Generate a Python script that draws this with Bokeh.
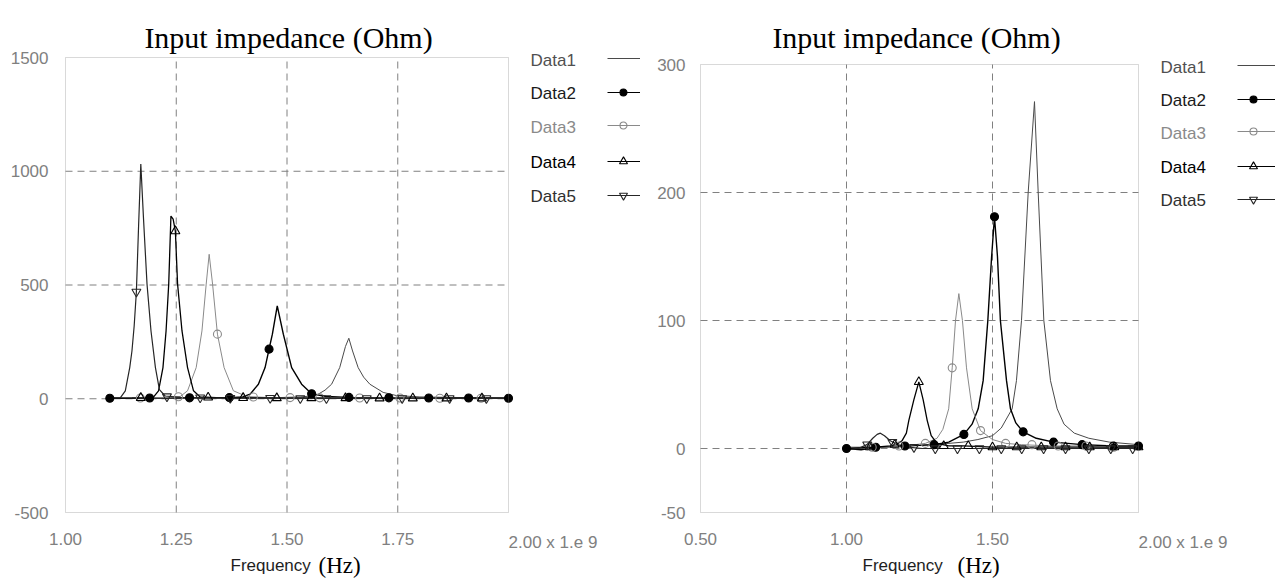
from bokeh.plotting import figure
from bokeh.layouts import row
from bokeh.models import Range1d, FixedTicker, Label, ColumnDataSource, LinearAxis, BoxAnnotation
from bokeh.core.properties import value
from bokeh.embed import file_html
from bokeh.resources import INLINE

# ---------------- data: left panel (frequency in 1e9 Hz, impedance in Ohm) ----------------
d1L_f = [1.10, 1.20, 1.30, 1.40, 1.48, 1.53, 1.555, 1.5705, 1.586, 1.6007, 1.619, 1.632, 1.6396,
         1.648, 1.6606, 1.673, 1.687, 1.717, 1.747, 1.80, 1.90, 2.00]
d1L_v = [2, 2, 3, 4, 5, 8, 12, 20, 38, 64, 137, 230, 266, 210, 137, 95, 64, 28, 14, 8, 5, 4]

d2L_f = [1.10, 1.19, 1.28, 1.37, 1.40, 1.4167, 1.4354, 1.4505, 1.4595, 1.467, 1.478, 1.4917,
         1.5105, 1.533, 1.5556, 1.589, 1.64, 1.73, 1.82, 1.91, 2.00]
d2L_v = [2, 3, 4, 5, 8, 20, 64, 137, 218, 284, 408, 284, 137, 64, 22, 10, 6, 4, 3, 3, 2]
d2L_mf = [1.10, 1.19, 1.28, 1.37, 1.4595, 1.5556, 1.64, 1.73, 1.82, 1.91, 2.00]
d2L_mv = [2, 3, 4, 5, 218, 22, 6, 4, 3, 3, 2]

d3L_f = [1.10, 1.16, 1.22, 1.259, 1.2755, 1.295, 1.308, 1.3176, 1.3243, 1.332, 1.343, 1.358,
         1.379, 1.409, 1.45, 1.50, 1.60, 1.70, 1.80, 1.90, 2.00]
d3L_v = [2, 3, 5, 10, 35, 137, 298, 504, 635, 504, 284, 137, 35, 10, 6, 5, 4, 3, 3, 2, 2]
d3L_mf = [1.169, 1.255, 1.343, 1.424, 1.507, 1.574, 1.664, 1.755, 1.845, 1.938]
d3L_mv = [3, 9, 284, 8, 5, 4, 3, 3, 2, 2]

d4L_f = [1.10, 1.15, 1.18, 1.199, 1.210, 1.220, 1.227, 1.233, 1.238, 1.243, 1.248, 1.253, 1.263,
         1.2755, 1.289, 1.304, 1.34, 1.40, 1.50, 1.60, 1.70, 1.80, 1.90, 2.00]
d4L_v = [2, 3, 4, 8, 35, 137, 298, 504, 803, 790, 737, 504, 298, 137, 35, 8, 5, 4, 3, 3, 2, 2, 2, 2]
d4L_mf = [1.170, 1.248, 1.322, 1.401, 1.477, 1.555, 1.632, 1.709, 1.784, 1.860, 1.940]
d4L_mv = [4, 737, 6, 4, 3, 3, 3, 2, 2, 2, 2]

d5L_f = [1.10, 1.124, 1.135, 1.145, 1.150, 1.155, 1.160, 1.165, 1.170, 1.176, 1.184, 1.193, 1.203,
         1.212, 1.225, 1.26, 1.32, 1.40, 1.50, 1.60, 1.70, 1.80, 1.90, 2.00]
d5L_v = [3, 5, 35, 137, 210, 320, 470, 760, 1032, 795, 504, 298, 137, 40, 12, 6, 4, 3, 3, 2, 2, 2, 2, 2]
d5L_mf = [1.160, 1.229, 1.304, 1.372, 1.462, 1.530, 1.589, 1.680, 1.760, 1.867, 1.950]
d5L_mv = [470, 10, 5, 3, 3, 2, 2, 2, 2, 2, 2]

# ---------------- data: right panel ----------------
d1R_f = [1.00, 1.10, 1.20, 1.30, 1.40, 1.45, 1.50, 1.53, 1.5673, 1.582, 1.5993, 1.6222, 1.6438,
         1.6565, 1.6758, 1.6986, 1.7215, 1.745, 1.78, 1.83, 1.90, 2.00]
d1R_v = [1, 1, 2, 3, 5, 7, 10, 16, 31, 53, 100, 200, 271, 200, 100, 53, 31, 19, 12, 8, 5, 3]

d2R_f = [1.00, 1.05, 1.10, 1.20, 1.30, 1.35, 1.402, 1.43, 1.451, 1.468, 1.484, 1.497, 1.5068, 1.517,
         1.527, 1.548, 1.5616, 1.58, 1.605, 1.65, 1.709, 1.807, 1.914, 2.00]
d2R_v = [0, -1, 1, 2, 3, 5, 11, 19, 31, 53, 100, 150, 181, 150, 100, 53, 31, 20, 13, 8, 5, 3, 2, 2]
d2R_mf = [1.00, 1.10, 1.20, 1.30, 1.402, 1.5068, 1.605, 1.709, 1.807, 1.914, 2.00]
d2R_mv = [0, 1, 2, 3, 11, 181, 13, 5, 3, 2, 2]

d3R_f = [1.00, 1.10, 1.20, 1.27, 1.31, 1.33, 1.350, 1.362, 1.3733, 1.3847, 1.397, 1.411, 1.4304,
         1.459, 1.50, 1.545, 1.60, 1.70, 1.80, 1.90, 2.00]
d3R_v = [0, 1, 2, 4, 8, 15, 31, 63, 100, 121, 100, 63, 31, 14, 7, 4, 3, 2, 2, 1, 1]
d3R_mf = [1.088, 1.18, 1.27, 1.362, 1.459, 1.545, 1.635, 1.725, 1.82, 1.915]
d3R_mv = [1, 2, 4, 63, 14, 4, 3, 2, 2, 1]

d4R_f = [1.00, 1.10, 1.15, 1.17, 1.19, 1.205, 1.2135, 1.2306, 1.2477, 1.2626, 1.2763, 1.29, 1.31,
         1.35, 1.40, 1.50, 1.60, 1.70, 1.80, 1.90, 2.00]
d4R_v = [0, 1, 2, 3, 6, 12, 22, 38, 52, 38, 22, 10, 4, 2, 2, 1, 1, 1, 1, 1, 1]
d4R_mf = [1.08, 1.165, 1.2477, 1.333, 1.417, 1.50, 1.583, 1.667, 1.75, 1.833, 1.917, 2.00]
d4R_mv = [1, 3, 52, 2, 2, 1, 1, 1, 1, 1, 1, 1]

d5R_f = [1.00, 1.04, 1.07, 1.09, 1.105, 1.116, 1.13, 1.15, 1.175, 1.21, 1.26, 1.30, 1.40, 1.50,
         1.60, 1.70, 1.80, 1.90, 2.00]
d5R_v = [-1, 0, 3, 8, 11, 12, 10, 6, 3, 1, 0, 0, 0, 0, 0, 0, 0, 0, 0]
d5R_mf = [1.071, 1.157, 1.231, 1.304, 1.38, 1.455, 1.53, 1.60, 1.675, 1.75, 1.83, 1.905, 1.98]
d5R_mv = [3, 5, 1, 0, 0, 0, 0, 0, 0, 0, 0, 0, 0]

# axis ticks and grid lines
left_xticks = [1.00, 1.25, 1.50, 1.75, 2.00]
left_yticks = [-500, 0, 500, 1000, 1500]
left_xgrid = [1.25, 1.50, 1.75]
left_ygrid = [0, 500, 1000]
right_xticks = [0.50, 1.00, 1.50, 2.00]
right_yticks = [-50, 0, 100, 200, 300]
right_xgrid = [1.00, 1.50]
right_ygrid = [0, 100, 200]
series_names = ["Data1", "Data2", "Data3", "Data4", "Data5"]
title_text = "Input impedance (Ohm)"
x_caption = "Frequency"
x_unit = "(Hz)"
x_end_label = "2.00 x 1.e 9"

# ---------------- styles ----------------
H = 578
LINE_COL = {"Data1": "#4a4a4a", "Data2": "#000000", "Data3": "#8a8a8a", "Data4": "#000000", "Data5": "#262626"}
LINE_W = {"Data1": 1.0, "Data2": 1.4, "Data3": 1.0, "Data4": 1.3, "Data5": 1.2}
TEXT_COL = {"Data1": "#505050", "Data2": "#1a1a1a", "Data3": "#8a8a8a", "Data4": "#000000", "Data5": "#303030"}
MARK = {"Data2": ("circle", 8, "#000000"), "Data3": ("circle", 8, None),
        "Data4": ("triangle", 9, None), "Data5": ("inverted_triangle", 9, None)}
GRID_COL = "#808080"
TICK_COL = "#808080"
SANS = "Liberation Sans"
SERIF = "Liberation Serif"


def make_panel(W, box, xr, yr, xticks, yticks, xgrid, ygrid, ystandoff, lines, marks, pos):
    """box = (left, top, right, bottom) of the plot box in canvas pixels."""
    bl, bt, br, bb = box
    sx = (xr[1] - xr[0]) / (br - bl)
    sy = (yr[1] - yr[0]) / (bb - bt)
    px2x = lambda px: xr[0] + (px - bl) * sx
    py2y = lambda py: yr[0] + (bb - py) * sy

    p = figure(width=W, height=H, x_range=Range1d(px2x(0), px2x(W)), y_range=Range1d(py2y(H), py2y(0)),
               output_backend="svg", toolbar_location=None, min_border=0,
               x_axis_location=None, y_axis_location=None)
    p.background_fill_color = "white"
    p.border_fill_color = "white"
    p.outline_line_color = None
    p.grid.visible = False

    xa = LinearAxis(fixed_location=yr[0], ticker=FixedTicker(ticks=xticks))
    ya = LinearAxis(fixed_location=xr[0], ticker=FixedTicker(ticks=yticks))
    xa.major_label_overrides = {t: ("" if t == xr[1] else f"{t:.2f}") for t in xticks}
    ya.major_label_overrides = {t: f"{t:g}" for t in yticks}
    for ax in (xa, ya):
        ax.axis_line_color = None
        ax.major_tick_line_color = None
        ax.minor_tick_line_color = None
        ax.major_tick_out = 0
        ax.major_tick_in = 0
        ax.major_label_text_font = SANS
        ax.major_label_text_font_size = "17px"
        ax.major_label_text_color = TICK_COL
    xa.major_label_standoff = 20
    ya.major_label_standoff = ystandoff
    p.add_layout(xa, "below")
    p.add_layout(ya, "left")

    # dashed grid lines inside the plot box
    p.segment(x0=xgrid, y0=[yr[0]] * len(xgrid), x1=xgrid, y1=[yr[1]] * len(xgrid),
              line_color=GRID_COL, line_dash="7 5", line_width=1)
    p.segment(x0=[xr[0]] * len(ygrid), y0=ygrid, x1=[xr[1]] * len(ygrid), y1=ygrid,
              line_color=GRID_COL, line_dash="7 5", line_width=1)
    # plot box
    p.add_layout(BoxAnnotation(left=xr[0], right=xr[1], bottom=yr[0], top=yr[1],
                               fill_color=None, fill_alpha=0, line_color="#808080", line_width=1))

    for name, (f, v) in zip(series_names, lines):
        p.line(f, v, line_color=LINE_COL[name], line_width=LINE_W[name])
    for name, (f, v) in marks.items():
        m, s, fill = MARK[name]
        p.scatter(f, v, marker=m, size=s, line_color=LINE_COL[name], line_width=1.1,
                  fill_color=fill, fill_alpha=1.0 if fill else 0.0)

    # title and axis captions
    p.add_layout(Label(x=px2x(pos["title_x"]), y=py2y(37), text=title_text, text_font=SERIF,
                       text_font_size="30px", text_align="center", text_baseline="alphabetic",
                       text_color="black"))
    p.add_layout(Label(x=px2x(pos["freq_x"]), y=py2y(565), text=x_caption, text_font=SANS,
                       text_font_size="17px", text_align="left", text_baseline="alphabetic",
                       text_color="#1e1e1e"))
    p.add_layout(Label(x=px2x(pos["hz_x"]), y=py2y(565), text=x_unit, text_font=SERIF,
                       text_font_size="23px", text_align="left", text_baseline="alphabetic",
                       text_color="black"))
    p.add_layout(Label(x=xr[1], y=py2y(542), text=x_end_label, text_font=SANS,
                       text_font_size="17px", text_align="left", text_baseline="middle",
                       text_color=TICK_COL))

    # legend: label on the left, line + marker sample on the right
    ty = [py2y(y) for y in pos["leg_text_y"]]
    src = ColumnDataSource(dict(x=[px2x(pos["leg_text_x"])] * 5, y=ty, t=series_names,
                                c=[TEXT_COL[n] for n in series_names]))
    p.text(x="x", y="y", text="t", text_color="c", source=src, text_font=value(SANS),
           text_font_size="17px", text_baseline="middle", text_align="left")
    lx0, lx1, mx = px2x(pos["leg_line"][0]), px2x(pos["leg_line"][1]), px2x(pos["leg_mark"])
    for name, yy in zip(series_names, pos["leg_line_y"]):
        y = py2y(yy)
        p.segment(x0=[lx0], y0=[y], x1=[lx1], y1=[y], line_color=LINE_COL[name], line_width=1)
        if name in MARK:
            m, s, fill = MARK[name]
            p.scatter([mx], [y], marker=m, size=s - 1, line_color=LINE_COL[name], line_width=1.1,
                      fill_color=fill, fill_alpha=1.0 if fill else 0.0)
    return p


p1 = make_panel(640, (65, 57, 508, 512), (1.0, 2.0), (-500, 1500), left_xticks, left_yticks,
                left_xgrid, left_ygrid, 17,
                [(d1L_f, d1L_v), (d2L_f, d2L_v), (d3L_f, d3L_v), (d4L_f, d4L_v), (d5L_f, d5L_v)],
                {"Data2": (d2L_mf, d2L_mv), "Data3": (d3L_mf, d3L_mv),
                 "Data4": (d4L_mf, d4L_mv), "Data5": (d5L_mf, d5L_mv)},
                dict(title_x=288, freq_x=230, hz_x=318, leg_text_x=530,
                     leg_text_y=[60, 93, 127, 162, 196], leg_line_y=[58, 92, 125, 161, 195],
                     leg_line=(607, 640), leg_mark=623))
p2 = make_panel(635, (60, 64, 498, 512), (0.5, 2.0), (-50, 300), right_xticks, right_yticks,
                right_xgrid, right_ygrid, 15,
                [(d1R_f, d1R_v), (d2R_f, d2R_v), (d3R_f, d3R_v), (d4R_f, d4R_v), (d5R_f, d5R_v)],
                {"Data2": (d2R_mf, d2R_mv), "Data3": (d3R_mf, d3R_mv),
                 "Data4": (d4R_mf, d4R_mv), "Data5": (d5R_mf, d5R_mv)},
                dict(title_x=276, freq_x=222, hz_x=317, leg_text_x=520,
                     leg_text_y=[67, 100, 133, 167, 200], leg_line_y=[65, 99, 131, 166, 199],
                     leg_line=(597, 635), leg_mark=613))

layout = row(p1, p2)
open("out.html", "w").write(file_html(layout, INLINE))
